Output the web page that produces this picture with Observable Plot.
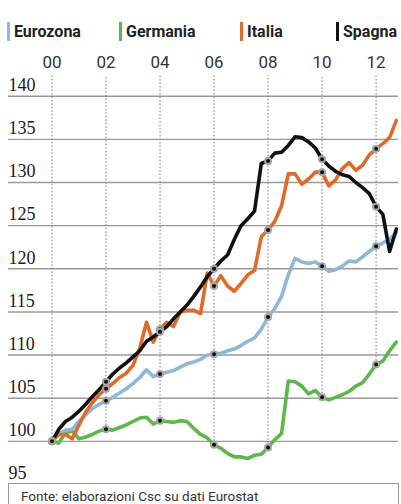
<!DOCTYPE html>
<html><head><meta charset="utf-8">
<script src="https://cdn.jsdelivr.net/npm/d3@7"></script>
<script src="https://cdn.jsdelivr.net/npm/@observablehq/plot@0.6"></script>
<style>
body{margin:0;background:#fff;width:401px;height:504px;overflow:hidden;position:relative;font-family:Roboto,sans-serif;}
#legend{position:relative;height:48px;}
.item{position:absolute;top:22px;height:19px;display:flex;align-items:center;font-weight:700;font-size:16px;color:#222;white-space:nowrap;}
.item .sw{width:3px;height:19px;margin-right:4px;}
#chart svg{display:block;}
#caption{position:absolute;left:8px;top:483px;width:377px;height:30px;border:1px solid #999;font-size:13.5px;color:#333;padding-left:12px;box-sizing:content-box;line-height:24px;}
</style></head>
<body>
<div id="legend"></div>
<div id="chart"></div>
<div id="caption">Fonte: elaborazioni Csc su dati Eurostat</div>
<script>
const seriesNames = ["Eurozona", "Germania", "Italia", "Spagna"];
const seriesColors = ["#8fb7d6", "#5cb84a", "#e06a2a", "#111111"];
const legendLeft = [7, 119, 240, 336];

const quarters = d3.range(52).map(i => 2000 + i / 4);

const eurozona = [100.0,100.9,101.3,101.4, 102.3,103.1,103.8,104.3, 104.7,105.1,105.6,106.1, 106.7,107.4,108.3,107.5,
  107.8,108.0,108.2,108.6, 109.0,109.2,109.5,110.0, 110.1,110.2,110.5,110.7, 111.1,111.6,112.0,113.0,
  114.4,115.4,116.8,119.3, 121.2,120.8,120.6,120.8, 120.3,119.7,119.9,120.3, 120.9,120.8,121.4,122.0, 122.6,123.0,123.4,124.2];
const germania = [100.0,99.8,101.0,101.2, 100.3,100.5,100.8,101.2, 101.4,101.3,101.6,101.9, 102.3,102.7,102.8,102.0,
  102.4,102.3,102.2,102.4, 102.3,101.5,100.8,100.4, 99.6,99.2,98.6,98.2, 98.2,98.0,98.4,98.5,
  99.3,100.2,100.9,107.0, 106.9,106.4,105.5,105.9, 105.1,104.8,105.1,105.4, 105.8,106.4,106.8,107.8, 108.9,109.3,110.5,111.5];
const italia = [100.0,100.8,100.8,100.3, 101.9,103.4,104.5,105.4, 106.1,106.7,107.4,107.9, 108.8,110.8,113.8,111.5,
  113.0,113.8,113.3,115.0, 115.2,115.2,114.8,119.5, 118.0,119.2,118.0,117.4, 118.3,119.3,119.8,123.7,
  124.5,125.5,127.3,131.0, 131.0,129.8,130.4,131.2, 131.2,129.6,130.3,131.6, 132.3,131.4,132.0,133.2, 133.9,134.5,135.2,137.2];
const spagna = [100.0,101.4,102.3,102.8, 103.5,104.3,105.2,106.0, 106.9,107.8,108.5,109.1, 109.8,110.5,111.6,112.1,
  112.7,113.3,114.2,115.0, 115.8,116.8,117.9,119.1, 120.0,120.9,121.6,123.4, 125.0,125.8,126.7,132.2,
  132.5,133.4,133.5,134.3, 135.3,135.2,134.7,134.0, 132.7,131.9,131.3,130.9, 130.7,130.0,129.4,128.7, 127.2,126.3,122.0,124.6];

const yearTicks = [2000, 2002, 2004, 2006, 2008, 2010, 2012];
const yearLabels = ["00", "02", "04", "06", "08", "10", "12"];
const yLabels = [95, 100, 105, 110, 115, 120, 125, 130, 135, 140];
const gridValues = [100, 105, 110, 115, 120, 125, 130, 135, 140];
const xDomain = [1998.39, 2012.83];
const yDomain = [95, 142.4];

// legend
const legend = document.getElementById("legend");
seriesNames.forEach((n, i) => {
  const el = document.createElement("div");
  el.className = "item";
  el.style.left = legendLeft[i] + "px";
  el.innerHTML = `<span class="sw" style="background:${seriesColors[i]}"></span><span>${n}</span>`;
  legend.appendChild(el);
});

const valuesBySeries = [eurozona, germania, italia, spagna];
const toRows = (vals, name) => quarters.map((t, i) => ({t, v: vals[i], serie: name}));
const rows = valuesBySeries.map((v, i) => toRows(v, seriesNames[i]));
const dots = rows.flat().filter(d => yearTicks.includes(d.t));
const yearRules = yearTicks.map(y => ({year: y, min: d3.min(dots.filter(d => d.t === y), d => d.v)}));

const drawOrder = [1, 0, 2, 3];
const chart = Plot.plot({
  width: 401, height: 436,
  marginTop: 27, marginBottom: 0, marginLeft: 8, marginRight: 3,
  x: {domain: xDomain, axis: null},
  y: {domain: yDomain, axis: null},
  style: {fontFamily: "Roboto", background: "#fff", overflow: "visible"},
  marks: [
    Plot.ruleY(gridValues, {stroke: "#9a9a9a", strokeWidth: 1.4}),
    Plot.text(yLabels, {y: d => d, text: d => String(d), frameAnchor: "left", textAnchor: "start", dy: -11,
      fontFamily: "Liberation Serif", fontSize: 18, fill: "#1a1a1a"}),
    Plot.axisX({anchor: "top", ticks: yearTicks, tickFormat: d => yearLabels[yearTicks.indexOf(d)], tickSize: 0,
      tickPadding: 8, fontSize: 17, fill: "#333"}),
    Plot.ruleX(yearRules, {x: "year", y1: "min", y2: () => yDomain[1], stroke: "#777", strokeWidth: 1, strokeDasharray: "1.5,2"}),
    ...drawOrder.map(i => Plot.line(rows[i], {x: "t", y: "v", stroke: seriesColors[i], strokeWidth: 3.6,
      strokeLinejoin: "round", strokeLinecap: "round"})),
    Plot.dot(dots, {x: "t", y: "v", r: 3, fill: "#111", stroke: "#a5a5a5", strokeWidth: 2})
  ]
});
document.getElementById("chart").appendChild(chart);
</script>
</body></html>
